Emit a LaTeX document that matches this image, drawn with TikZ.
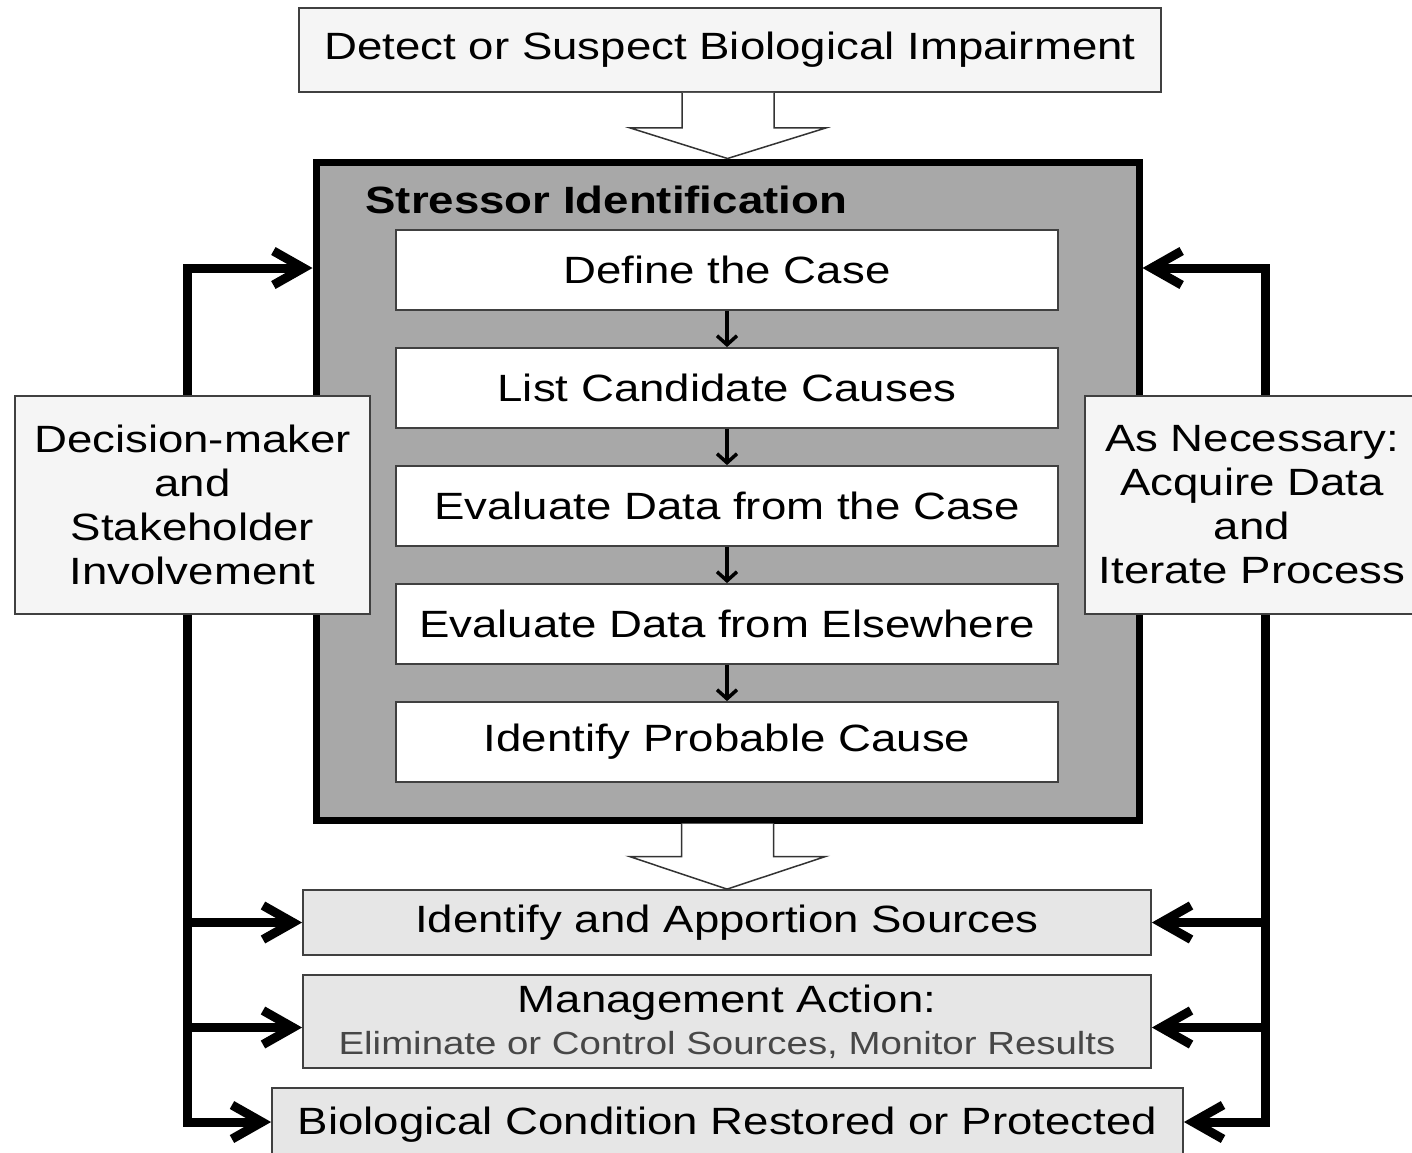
\documentclass[tikz,border=0pt]{standalone}
\usepackage{fontspec}
\setmainfont[FakeStretch=1.2]{Liberation Sans}
\usetikzlibrary{arrows.meta,calc}
\definecolor{siGray}{HTML}{A8A8A8}
\definecolor{lightBox}{HTML}{F5F5F5}
\definecolor{midBox}{HTML}{E6E6E6}
\begin{document}
\begin{tikzpicture}[x=1pt,y=-1pt,line join=miter,font=\fontsize{38}{44}\selectfont,
	box/.style={draw=black!75,line width=1.8pt,inner sep=0pt,align=center},
	topbox/.style={box,fill=lightBox,minimum width=862pt,minimum height=84pt},
	stepbox/.style={box,fill=white,minimum width=662pt,minimum height=80pt},
	lowbox/.style={box,fill=midBox,minimum width=848pt},
	sidebox/.style={box,fill=lightBox,minimum height=218pt},
	hollow/.style={draw=black!80,fill=white,line width=1.5pt},
	barb/.tip={Straight Barb[length=30pt,width=34pt]},
	fb/.style={line width=9pt,line cap=butt,-barb},
	small/.style={line width=3.5pt,-{Straight Barb[length=9pt,width=20pt]}}]
	\useasboundingbox[fill=white] (0,0) rectangle (1412,1152);
	\node[topbox] (detect) at (730,50) {Detect or Suspect Biological Impairment};
	\node[draw=black,line width=7pt,fill=siGray,minimum width=823pt,minimum height=658pt] (si) at (727.5,491) {};
	\node[anchor=west,font=\fontsize{38}{44}\selectfont\bfseries] (sititle) at (362,200) {Stressor Identification};
	\foreach \t [count=\i] in {Define the Case,List Candidate Causes,Evaluate Data from the Case,Evaluate Data from Elsewhere,Identify Probable Cause}
		{\node[stepbox] (s\i) at (727,{270+118*(\i-1)}) {\t};}
	\foreach \i/\j in {1/2,2/3,3/4,4/5}{\draw[small] (s\i) -- (s\j);}
	\draw[hollow] ($(detect.south)+(-48,0)$) --++(0,35) --++(-52,0) -- (si.north) -- ($(detect.south)+(96,35)$) --++(-52,0) --++(0,-35);
	\node[lowbox,minimum height=65pt] (src) at (727,922.5) {Identify and Apportion Sources};
	\node[lowbox,minimum height=93pt] (mgmt) at (727,1021.5) {Management Action:\\[-2pt] {\fontsize{32}{36}\selectfont\color{black!72}Eliminate or Control Sources, Monitor Results}};
	\node[box,fill=midBox,minimum width=911pt,minimum height=74pt] (bio) at (727.5,1125) {Biological Condition Restored or Protected};
	\draw[hollow] ($(si.south)+(-46,0)$) --++(0,33) --++(-52,0) -- (src.north) -- ($(si.south)+(98,33)$) --++(-52,0) --++(0,-33);
	\coordinate (ltop) at (187,268); \coordinate (lbot) at (187,1122);
	\coordinate (rtop) at (1265,268); \coordinate (rbot) at (1265,1122);
	\draw[fb,barb-barb] (ltop -| si.west) -- (ltop) -- (lbot) -- (lbot -| bio.west);
	\draw[fb,barb-barb] (rtop -| si.east) -- (rtop) -- (rbot) -- (rbot -| bio.east);
	\draw[fb] (src.west -| ltop) -- (src.west); \draw[fb] (src.east -| rtop) -- (src.east);
	\draw[fb] ([yshift=-6pt]mgmt.west -| ltop) -- ([yshift=-6pt]mgmt.west); \draw[fb] ([yshift=-6pt]mgmt.east -| rtop) -- ([yshift=-6pt]mgmt.east);
	\node[sidebox,minimum width=355pt] (dm) at (192.5,505) {Decision-maker\\and\\Stakeholder\\Involvement};
	\node[sidebox,minimum width=334pt,text width=330pt] (nec) at (1252,505) {As Necessary:\\Acquire Data\\and\\Iterate Process};
\end{tikzpicture}
\end{document}
